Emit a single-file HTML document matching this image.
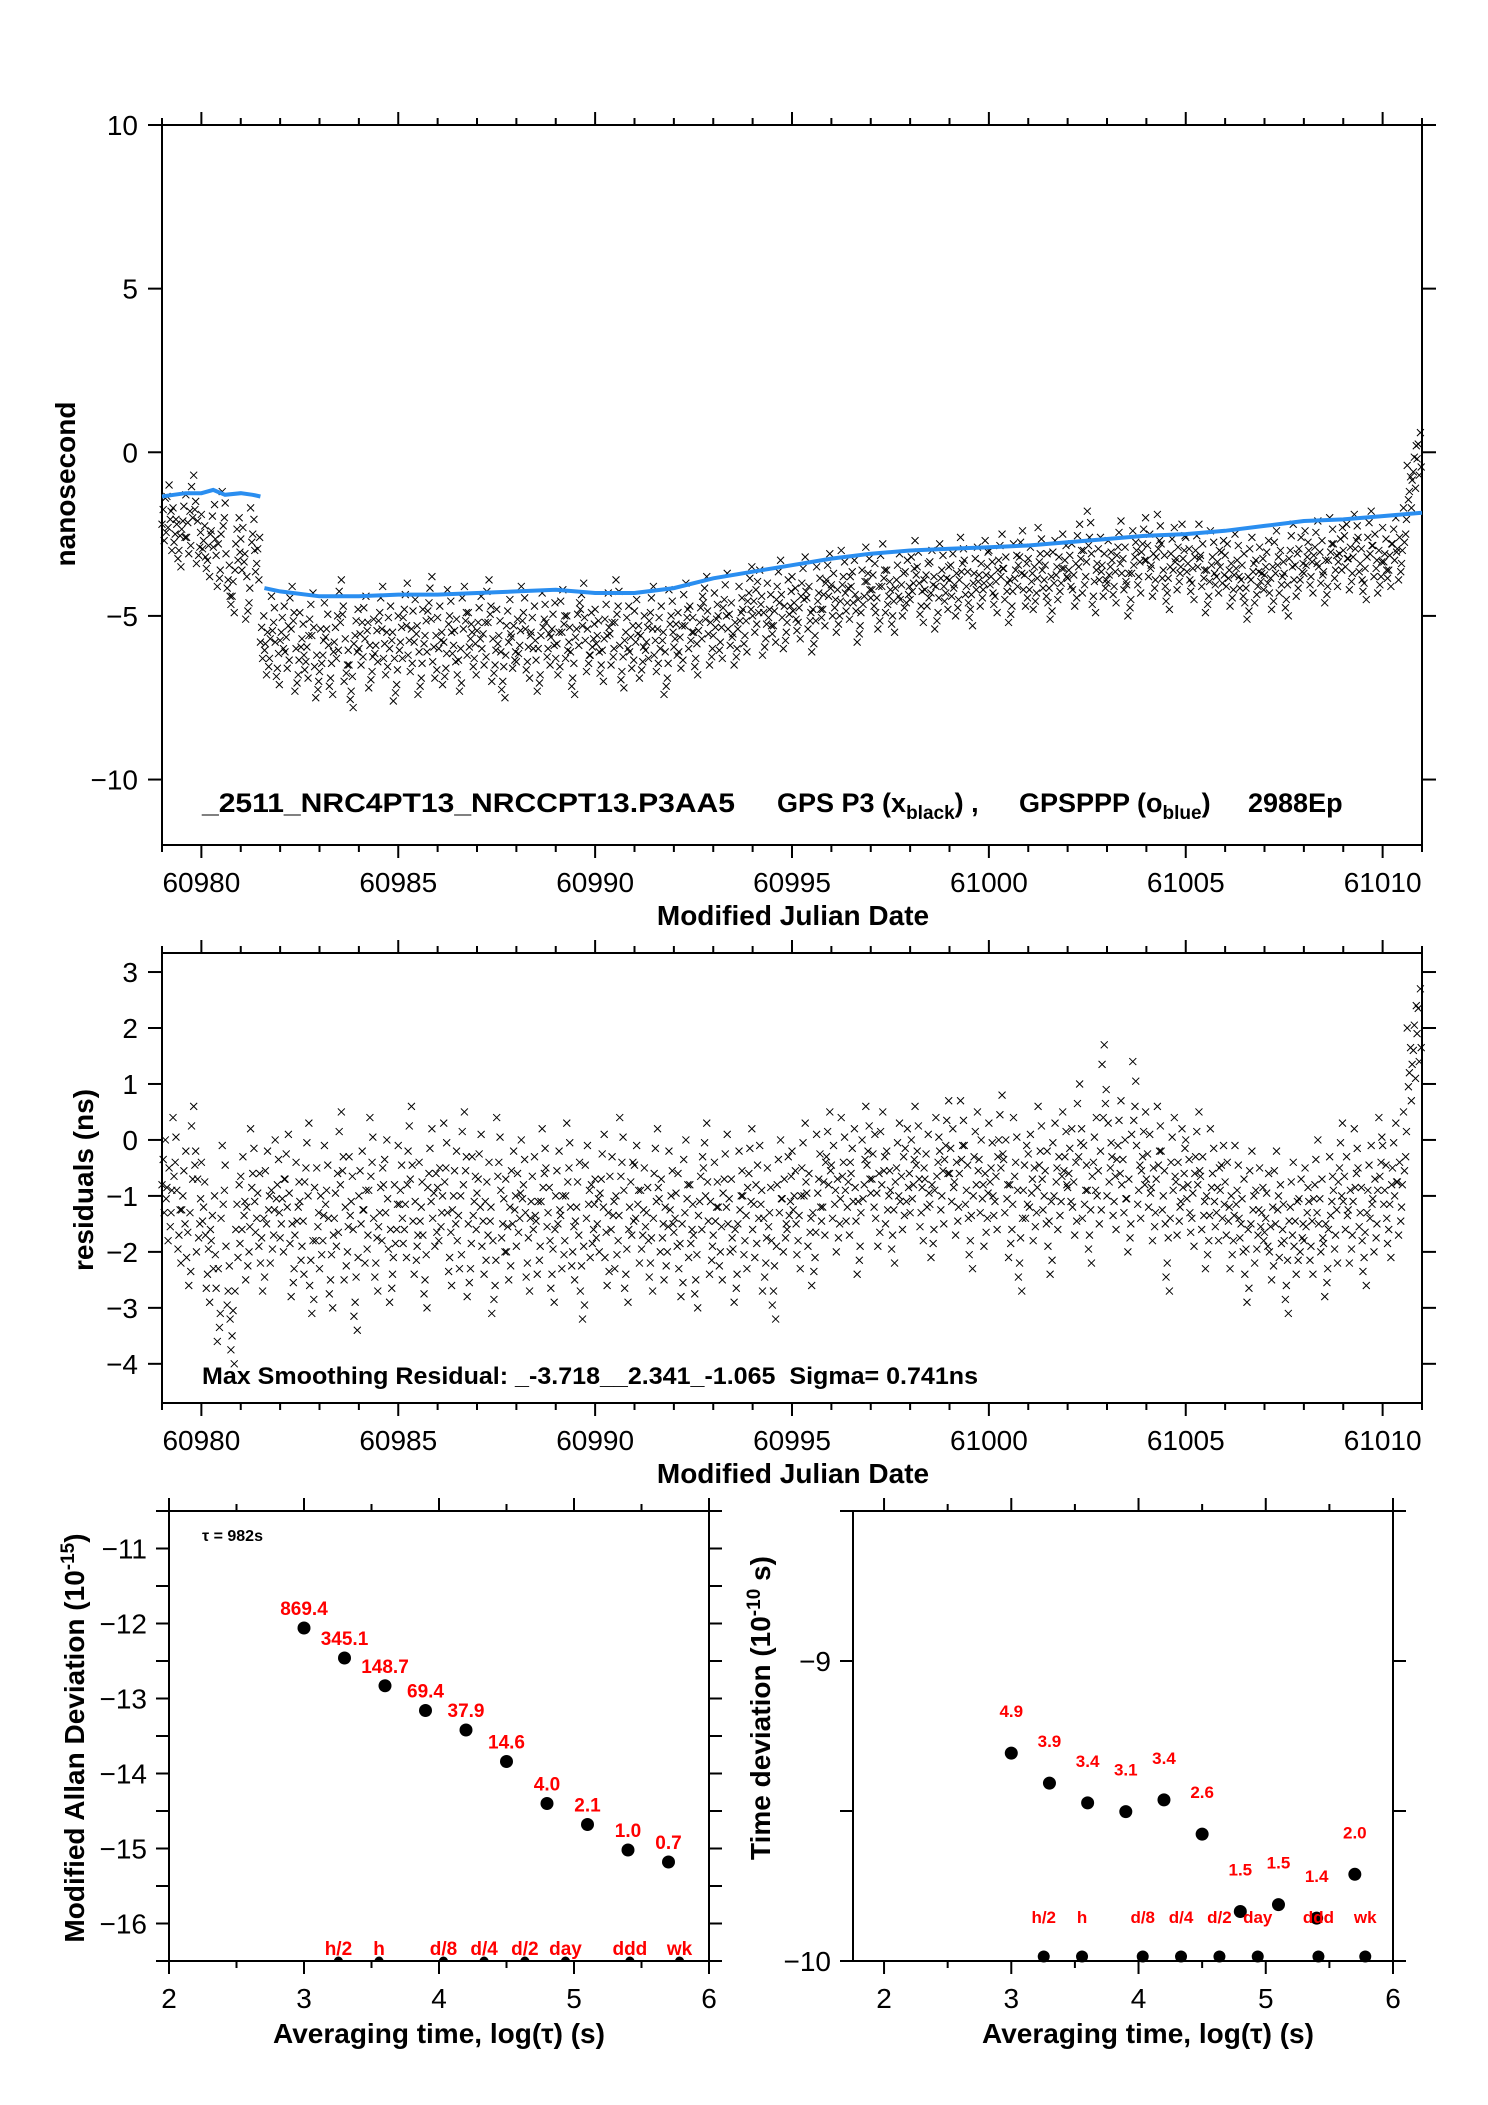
<!DOCTYPE html>
<html><head><meta charset="utf-8"><style>
html,body{margin:0;padding:0;background:#fff;}
svg{display:block;font-family:"Liberation Sans",sans-serif;}
</style></head><body>
<svg id="fig" width="1488" height="2105" viewBox="0 0 1488 2105" xmlns="http://www.w3.org/2000/svg">
<rect width="1488" height="2105" fill="#fff"/>
<g id="p1"></g>
<g id="p2"></g>
<g id="p3"></g>
<g id="p4"></g>
</svg>
<script>
// ---------- data ----------
const mjdStart = 60979;
const ptsPerDay = 8;
const offsetNs = [
-2.2,-1.8,-2.5,-3.0,-2.1,-2.6,-1.5,-2.9,
-2.7,-3.3,-2.4,-3.6,-2.0,-3.9,-4.4,-2.8,
-3.1,-4.6,-2.5,-3.4,-5.8,-6.3,-5.2,-6.6,
-5.5,-6.1,-4.9,-6.8,-5.7,-6.4,-5.1,-7.0,
-6.2,-5.4,-6.9,-5.8,-4.7,-6.5,-7.3,-5.6,
-6.0,-5.2,-6.7,-5.9,-4.9,-6.3,-5.5,-7.1,
-5.8,-4.8,-6.2,-5.3,-6.9,-5.6,-4.6,-6.4,
-5.5,-6.6,-5.0,-5.9,-6.8,-4.9,-5.7,-6.3,
-5.2,-6.0,-4.7,-6.5,-5.6,-7.0,-5.3,-6.1,
-5.9,-4.9,-6.4,-5.5,-6.8,-5.1,-6.0,-5.4,
-6.3,-5.0,-5.8,-6.9,-5.4,-4.8,-6.2,-5.7,
-5.6,-6.5,-5.1,-6.0,-4.7,-6.7,-5.5,-6.1,
-5.3,-6.4,-5.8,-4.9,-6.2,-5.5,-6.9,-5.0,
-5.7,-6.1,-4.8,-5.5,-6.3,-5.2,-4.6,-6.0,
-5.1,-5.8,-4.5,-5.4,-6.0,-4.9,-5.6,-4.3,
-5.0,-4.4,-5.7,-4.8,-5.3,-4.1,-5.5,-4.7,
-4.6,-5.2,-4.0,-4.9,-5.6,-4.3,-4.8,-3.9,
-4.5,-5.0,-3.8,-4.6,-4.1,-5.3,-4.4,-3.7,
-4.2,-4.9,-3.6,-4.4,-5.0,-3.9,-4.5,-4.1,
-4.0,-3.5,-4.7,-4.2,-3.8,-4.9,-3.6,-4.3,
-3.9,-4.5,-3.4,-4.1,-4.8,-3.7,-4.2,-3.5,
-3.8,-4.4,-3.3,-4.0,-4.7,-3.6,-3.2,-4.2,
-3.7,-4.3,-3.1,-3.9,-4.6,-3.5,-4.0,-3.3,
-3.6,-4.2,-3.0,-3.8,-2.6,-4.4,-3.4,-3.9,
-3.5,-4.1,-2.9,-3.7,-4.5,-3.2,-3.8,-2.8,
-3.3,-3.9,-2.7,-3.6,-4.3,-3.1,-3.7,-3.0,
-3.4,-4.0,-3.0,-3.6,-4.4,-3.2,-3.8,-3.5,
-3.6,-4.2,-3.3,-3.9,-4.6,-3.4,-4.1,-3.7,
-3.5,-4.3,-3.2,-3.8,-4.5,-3.0,-3.9,-3.4,
-3.2,-3.8,-2.9,-3.5,-4.1,-2.8,-3.6,-3.1,
-3.0,-3.7,-2.7,-3.4,-4.0,-2.6,-3.3,-3.8,
-3.1,-3.6,-2.8,-3.4,-2.5,-1.2,-0.6,-0.2];
const residualNs = [
-0.8,-1.3,-0.4,-1.7,-1.0,-2.1,-0.2,-1.5,
-1.2,-2.4,-1.8,-3.1,-0.9,-2.7,-3.5,-1.6,
-1.1,-2.0,-0.6,-1.4,-2.2,-1.0,-1.7,-0.8,
-1.5,-0.7,-2.3,-1.2,-1.9,-0.5,-2.6,-1.3,
-1.8,-0.9,-2.5,-1.4,-0.3,-2.0,-1.1,-2.9,
-1.0,-1.7,-0.4,-2.2,-1.3,-0.8,-2.4,-1.6,
-0.9,-1.6,-0.2,-1.9,-1.2,-2.5,-0.6,-1.4,
-1.3,-0.5,-2.1,-1.0,-1.8,-0.3,-2.3,-1.1,
-0.7,-1.9,-1.2,-2.6,-0.4,-1.5,-2.0,-1.0,
-1.4,-0.8,-2.2,-1.1,-1.9,-0.6,-1.3,-2.4,
-1.0,-1.8,-0.5,-2.0,-1.2,-2.7,-0.9,-1.6,
-1.5,-0.7,-2.1,-1.1,-1.8,-0.4,-2.4,-1.2,
-0.9,-1.7,-1.3,-2.2,-0.6,-1.5,-2.0,-1.0,
-1.4,-2.3,-0.8,-1.6,-2.5,-1.1,-0.5,-1.9,
-1.2,-2.0,-0.7,-1.5,-2.4,-1.0,-1.8,-0.6,
-1.6,-0.9,-2.2,-1.3,-2.7,-0.8,-1.5,-1.1,
-1.0,-1.8,-0.5,-1.4,-2.1,-0.7,-1.2,-0.3,
-0.9,-1.5,-0.4,-1.2,-0.6,-1.9,-0.8,-0.2,
-0.7,-1.4,-0.3,-1.0,-1.7,-0.5,-1.1,-0.6,
-0.8,-0.2,-1.3,-0.7,-1.6,-0.4,-1.0,-0.1,
-0.6,-1.2,-0.1,-0.9,-1.8,-0.3,-0.8,-1.4,
-0.5,-1.1,0.0,-0.8,-1.6,-0.4,-2.2,-0.9,
-0.7,-1.3,-0.2,-1.0,-1.9,-0.5,-1.1,-0.3,
-0.6,-1.2,0.2,-0.9,-1.7,-0.4,-1.0,0.9,
-0.5,-1.1,-0.1,-0.8,-1.5,0.6,-0.9,-0.3,
-0.7,-1.3,-0.2,-1.0,-2.2,-0.4,-1.2,-0.6,
-0.8,-1.4,-0.3,-1.1,-1.8,-0.6,-1.3,-0.9,
-1.2,-1.8,-0.9,-1.5,-2.4,-1.0,-1.7,-1.3,
-1.4,-2.0,-1.0,-1.6,-2.6,-1.2,-1.9,-1.5,
-1.3,-1.9,-0.8,-1.5,-2.3,-1.1,-1.7,-0.5,
-1.1,-1.7,-0.6,-1.3,-2.1,-0.9,-1.5,-0.4,
-0.9,-1.6,-0.5,-1.2,-0.3,1.2,1.6,1.9];
const pppMjdA = [60979.0,60979.3,60979.6,60980.0,60980.3,60980.6,60981.0,60981.3,60981.5];
const pppNsA = [-1.35,-1.3,-1.25,-1.25,-1.15,-1.3,-1.25,-1.3,-1.35];
const pppMjdB = [60981.6,60982,60983,60984,60985,60986,60987,60988,60989,60990,60991,60992,60993,60994,60995,60996,60997,60998,60999,61000,61001,61002,61003,61004,61005,61006,61007,61008,61009,61010,61011];
const pppNsB = [-4.15,-4.25,-4.4,-4.4,-4.35,-4.35,-4.3,-4.25,-4.2,-4.3,-4.3,-4.15,-3.85,-3.65,-3.45,-3.25,-3.1,-3.0,-2.95,-2.9,-2.85,-2.75,-2.65,-2.55,-2.5,-2.4,-2.25,-2.1,-2.05,-1.95,-1.85];

const tauLog = [3.0,3.3,3.6,3.9,4.2,4.5,4.8,5.1,5.4,5.7];
const madevLog = [-12.06,-12.46,-12.83,-13.16,-13.42,-13.84,-14.40,-14.68,-15.02,-15.18];
const madevLabels = ["869.4","345.1","148.7","69.4","37.9","14.6","4.0","2.1","1.0","0.7"];
const tdevLog = [-9.307,-9.407,-9.473,-9.502,-9.463,-9.577,-9.835,-9.812,-9.857,-9.711];
const tdevLabels = ["4.9","3.9","3.4","3.1","3.4","2.6","1.5","1.5","1.4","2.0"];
const markerNames = ["h/2","h","d/8","d/4","d/2","day","ddd","wk"];
const markerLog = [3.255,3.556,4.033,4.334,4.636,4.937,5.414,5.782];

const mjdTicks = [60980,60985,60990,60995,61000,61005,61010];
const p1YTicks = [10,5,0,-5,-10];
const p2YTicks = [3,2,1,0,-1,-2,-3,-4];
const madevYTicks = [-11,-12,-13,-14,-15,-16];
const tdevYTicks = [-9,-10];
const logTicks = [2,3,4,5,6];

// ---------- helpers ----------
const NS='http://www.w3.org/2000/svg';
function mk(parent,tag,attrs,text){const e=document.createElementNS(NS,tag);for(const k in attrs)e.setAttribute(k,attrs[k]);if(text!==undefined)e.textContent=text;parent.appendChild(e);return e;}
function lin(d0,d1,r0,r1){return v=>r0+(v-d0)*(r1-r0)/(d1-d0);}
function fmt(v){return v<0?'\u2212'+Math.abs(v):String(v);}
function line(g,x1,y1,x2,y2,w){return mk(g,'line',{x1,y1,x2,y2,stroke:'#000','stroke-width':w||2});}

function frame(g,L,T,R,B){
  const r=mk(g,'rect',{x:L,y:T,width:R-L,height:B-T,fill:'none',stroke:'#000','stroke-width':2});
  
  
}
function xcross(g,x,y){
  const s=3.5;
  const p=mk(g,'path',{d:`M${x-s},${y-s}L${x+s},${y+s}M${x-s},${y+s}L${x+s},${y-s}`,stroke:'#000','stroke-width':1,fill:'none'});
  
  
}
// per-sample cluster layout (epochs within each sample bin)
const clusterDx=[0,0.03,0.055,0.085,0.105];
const clusterDy=[0,0.45,-0.5,0.8,-0.25];

// ---------- time panels ----------
function timePanel(g,T,B,y0,y1,yTicks,data){
  const L=162,R=1422;
  const X=lin(60979,61011,L,R), Y=lin(y0,y1,B,T);
  frame(g,L,T,R,B);
  for(let d=60979;d<=61011;d++){
    const maj=d%5===0, len=maj?13:7;
    line(g,X(d),T,X(d),T-len);
    line(g,X(d),B,X(d),B+len);
  }
  mjdTicks.forEach(v=>{
    const t=mk(g,'text',{x:X(v),y:B+47,'font-size':28,'text-anchor':'middle'},String(v));
    
    
  });
  yTicks.forEach(v=>{
    line(g,L-14,Y(v),L,Y(v));
    line(g,R,Y(v),R+14,Y(v));
    const t=mk(g,'text',{x:L-24,y:Y(v)+10,'font-size':28,'text-anchor':'end'},fmt(v));
    
    
  });
  const pts=mk(g,'g',{});
  
  
  data.forEach((v,i)=>{
    const m=mjdStart+i/ptsPerDay;
    for(let k=0;k<clusterDx.length;k++){
      const dy=clusterDy[(k+i)%clusterDy.length];
      xcross(pts,X(m+clusterDx[k]),Y(v+dy));
    }
  });
  const tl=mk(g,'text',{x:793,y:B+80,'font-size':28,'font-weight':'bold','text-anchor':'middle'},'Modified Julian Date');
  
  
  return {X,Y};
}

const g1=document.getElementById('p1');
const a1=timePanel(g1,125,845,-12,10,p1YTicks,offsetNs);
[[pppMjdA,pppNsA],[pppMjdB,pppNsB]].forEach(([xs,ys])=>{
  const d=xs.map((m,i)=>(i?'L':'M')+a1.X(m).toFixed(1)+','+a1.Y(ys[i]).toFixed(1)).join('');
  const p=mk(g1,'path',{d,stroke:'#2a8ef0','stroke-width':4,fill:'none'});
  
  
});
let t=mk(g1,'text',{x:75,y:484,'font-size':28,'font-weight':'bold','text-anchor':'middle',transform:'rotate(-90 75 484)'},'nanosecond');


t=mk(g1,'text',{y:812,'font-size':27,'font-weight':'bold'});


t.innerHTML='<tspan x="202" textLength="533" lengthAdjust="spacingAndGlyphs">_2511_NRC4PT13_NRCCPT13.P3AA5</tspan><tspan x="777">GPS P3 (x</tspan><tspan font-size="19" dy="7">black</tspan><tspan dy="-7">) ,</tspan><tspan x="1019">GPSPPP (o</tspan><tspan font-size="19" dy="7">blue</tspan><tspan dy="-7">)</tspan><tspan x="1248">2988Ep</tspan>';

const g2=document.getElementById('p2');
timePanel(g2,953,1403,-4.7,3.34,p2YTicks,residualNs);
t=mk(g2,'text',{x:93,y:1180,'font-size':28,'font-weight':'bold','text-anchor':'middle',transform:'rotate(-90 93 1180)'},'residuals (ns)');


t=mk(g2,'text',{x:202,y:1384,'font-size':24,'font-weight':'bold',textLength:776,lengthAdjust:'spacingAndGlyphs'},'Max Smoothing Residual: _-3.718__2.341_-1.065\u00a0\u00a0Sigma= 0.741ns');



// ---------- stability panels ----------
function stabPanel(g,L,R,xd0,T,B,y0,y1,yTicks,yMinor,vals,labels,labOff,labSize,markY,markLabOff,clipDots){
  const sx=lin(xd0,6,L,R), sy=lin(y0,y1,B,T);
  frame(g,L,T,R,B);
  for(let v=2;v<=6.001;v+=0.5){
    const maj=Math.abs(v-Math.round(v))<1e-6, len=maj?13:7;
    line(g,sx(v),T,sx(v),T-len);
    line(g,sx(v),B,sx(v),B+len);
  }
  logTicks.forEach(v=>{
    const tt=mk(g,'text',{x:sx(v),y:B+47,'font-size':28,'text-anchor':'middle'},String(v));
    
    
  });
  yMinor.forEach(v=>{line(g,L-13,sy(v),L,sy(v));line(g,R,sy(v),R+13,sy(v));});
  yTicks.forEach(v=>{
    const tt=mk(g,'text',{x:L-22,y:sy(v)+10,'font-size':28,'text-anchor':'end'},fmt(v));
    
    
  });
  const cp='clip'+L;
  const defs=mk(g,'defs',{});
  const c=mk(defs,'clipPath',{id:cp});
  mk(c,'rect',{x:L,y:T,width:R-L,height:B-T});
  tauLog.forEach((x,i)=>{
    const d=mk(g,'circle',{cx:sx(x),cy:sy(vals[i]),r:6.5,fill:'#000'});
    
    
    const tt=mk(g,'text',{x:sx(x),y:sy(vals[i])-labOff,'font-size':labSize,'font-weight':'bold',fill:'#ff0000','text-anchor':'middle'},labels[i]);
    
    
  });
  markerLog.forEach((x,i)=>{
    const attrs={cx:sx(x),cy:sy(markY),r:clipDots?4.5:6,fill:'#000'};
    if(clipDots)attrs['clip-path']='url(#'+cp+')';
    const d=mk(g,'circle',attrs);
    
    
    const tt=mk(g,'text',{x:sx(x),y:B-markLabOff,'font-size':labSize,'font-weight':'bold',fill:'#ff0000','text-anchor':'middle'},markerNames[i]);
    
    
  });
  const ti=mk(g,'text',{x:(L+R)/2+(xd0<2?25:0),y:B+82,'font-size':28,'font-weight':'bold','text-anchor':'middle'},'Averaging time, log(\u03c4) (s)');
  
  
  return {sx,sy};
}
const g3=document.getElementById('p3');
stabPanel(g3,169,709,2,1511,1961,-16.5,-10.5,madevYTicks,[-10.5,-11,-11.5,-12,-12.5,-13,-13.5,-14,-14.5,-15,-15.5,-16,-16.5],madevLog,madevLabels,13,19,-16.5,6,true);
t=mk(g3,'text',{x:84,y:1738,'font-size':28,'font-weight':'bold','text-anchor':'middle',transform:'rotate(-90 84 1738)'});


t.innerHTML='Modified Allan Deviation (10<tspan font-size="19" dy="-10">-15</tspan><tspan dy="10">)</tspan>';
t=mk(g3,'text',{x:202,y:1541,'font-size':16,'font-weight':'bold'},'\u03c4 = 982s');



const g4=document.getElementById('p4');
stabPanel(g4,853,1393,1.756,1511,1961,-10,-8.5,tdevYTicks,[-8.5,-9,-9.5,-10],tdevLog,tdevLabels,36,17,-9.985,38,false);
t=mk(g4,'text',{x:770,y:1708,'font-size':28,'font-weight':'bold','text-anchor':'middle',transform:'rotate(-90 770 1708)'});


t.innerHTML='Time deviation (10<tspan font-size="19" dy="-10">-10</tspan><tspan dy="10"> s)</tspan>';
</script>
</body></html>
